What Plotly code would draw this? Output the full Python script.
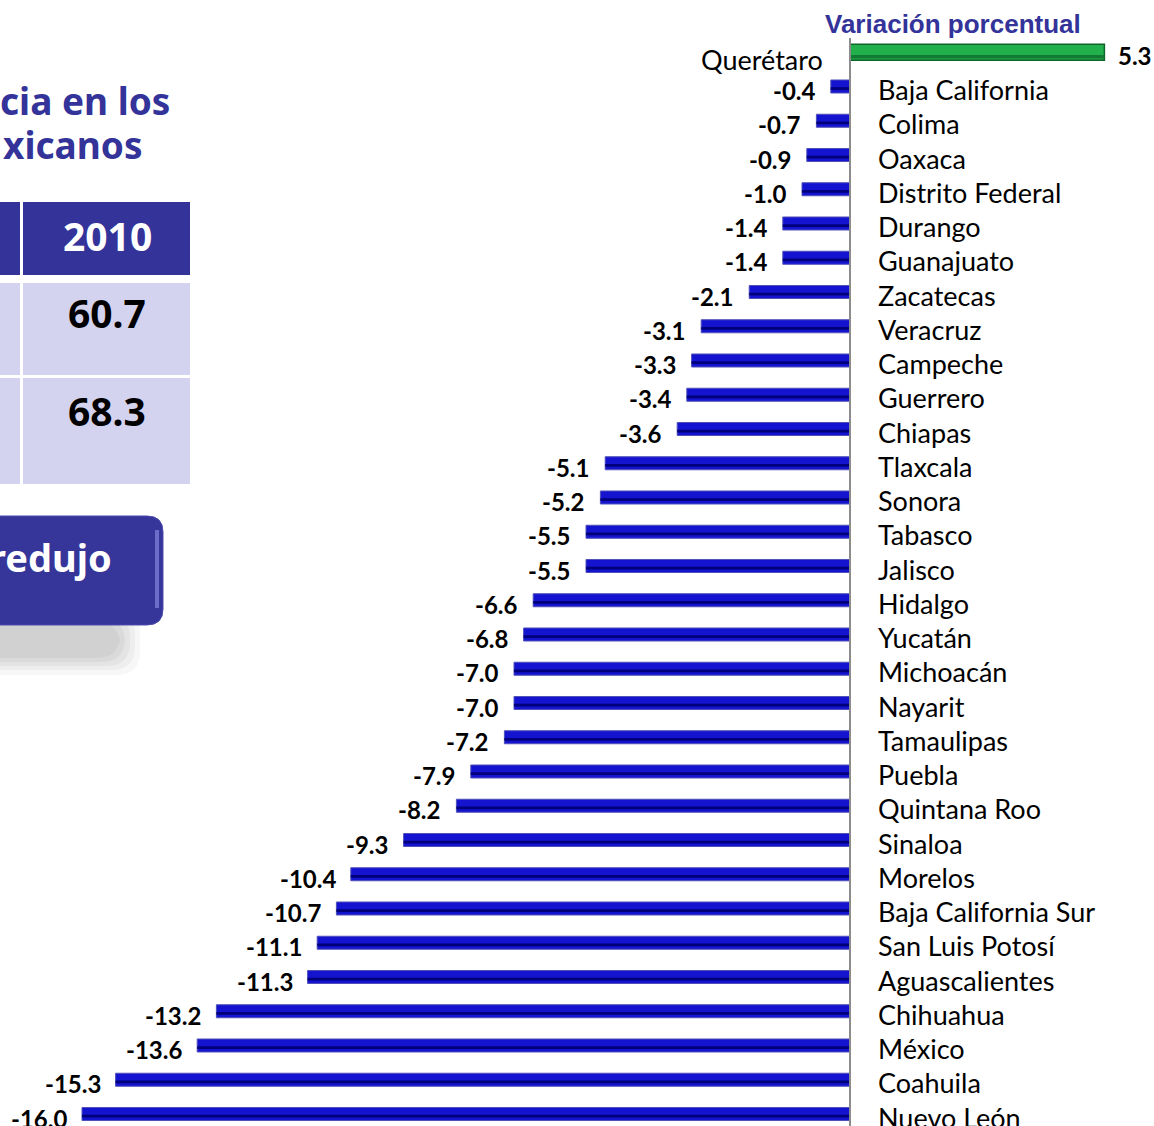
import plotly.graph_objects as go

W, H = 1154, 1126
OFF = 0
FW, FH = W - OFF, H - OFF

states = ["Querétaro", "Baja California", "Colima", "Oaxaca", "Distrito Federal",
          "Durango", "Guanajuato", "Zacatecas", "Veracruz", "Campeche", "Guerrero",
          "Chiapas", "Tlaxcala", "Sonora", "Tabasco", "Jalisco", "Hidalgo", "Yucatán",
          "Michoacán", "Nayarit", "Tamaulipas", "Puebla", "Quintana Roo", "Sinaloa",
          "Morelos", "Baja California Sur", "San Luis Potosí", "Aguascalientes",
          "Chihuahua", "México", "Coahuila", "Nuevo León"]
variation = [5.3, -0.4, -0.7, -0.9, -1.0, -1.4, -1.4, -2.1, -3.1, -3.3, -3.4, -3.6,
             -5.1, -5.2, -5.5, -5.5, -6.6, -6.8, -7.0, -7.0, -7.2, -7.9, -8.2, -9.3,
             -10.4, -10.7, -11.1, -11.3, -13.2, -13.6, -15.3, -16.0]

chart_title = "Variación porcentual"
side_title = ["cia en los", "xicanos"]
table_header = "2010"
table_values = ["60.7", "68.3"]
button_text = "redujo"

NAVY = "#333399"
LAV = "#d3d3f0"


def xp(px):
    return (px - OFF) / FW


def yp(py):
    return 1 - (py - OFF) / FH


def rrect(x0, y0, x1, y1, r):
    pts = [
        ("M", (x0 + r, y0)), ("L", (x1 - r, y0)), ("Q", (x1, y0), (x1, y0 + r)),
        ("L", (x1, y1 - r)), ("Q", (x1, y1), (x1 - r, y1)), ("L", (x0 + r, y1)),
        ("Q", (x0, y1), (x0, y1 - r)), ("L", (x0, y0 + r)), ("Q", (x0, y0), (x0 + r, y0)),
    ]
    s = ""
    for p in pts:
        s += p[0] + " " + " ".join(f"{xp(a):.5f},{yp(b):.5f}" for a, b in p[1:]) + " "
    return s + "Z"


pos_x = [v if v > 0 else None for v in variation]
neg_x = [v if v < 0 else None for v in variation]

fig = go.Figure()
fig.add_trace(go.Bar(x=neg_x, y=states, orientation="h", width=0.38,
                     marker=dict(color="#1414d0", line=dict(color="#5050b8", width=1)),
                     hoverinfo="skip"))
fig.add_trace(go.Bar(x=neg_x, y=states, orientation="h", width=0.08, offset=0.02,
                     marker=dict(color="#00007a", line=dict(width=0)), hoverinfo="skip"))
fig.add_trace(go.Bar(x=pos_x, y=states, orientation="h", width=0.47,
                     marker=dict(color="#22b04c", line=dict(color="#0e6428", width=1.5)),
                     hoverinfo="skip"))
fig.add_trace(go.Bar(x=pos_x, y=states, orientation="h", width=0.1, offset=0.08,
                     marker=dict(color="#137a34", line=dict(width=0)), hoverinfo="skip"))

annotations = []
for s, v in zip(states, variation):
    if v < 0:
        annotations.append(dict(x=0, y=s, xref="x", yref="y", text=s, showarrow=False,
                                xanchor="left", xshift=26, yshift=-3,
                                font=dict(family="Lato", size=27, color="#000000")))
        annotations.append(dict(x=v, y=s, xref="x", yref="y", text=f"<b>{v:.1f}</b>",
                                showarrow=False, xanchor="right", xshift=-13, yshift=-4,
                                font=dict(family="Lato", size=24, color="#000000")))
    else:
        annotations.append(dict(x=0, y=s, xref="x", yref="y", text=s, showarrow=False,
                                xanchor="right", xshift=-25, yshift=-7,
                                font=dict(family="Lato", size=27, color="#000000")))
        annotations.append(dict(x=v, y=s, xref="x", yref="y", text=f"<b>{v:.1f}</b>",
                                showarrow=False, xanchor="left", xshift=12, yshift=-3,
                                font=dict(family="Lato", size=24, color="#000000")))

annotations.append(dict(x=xp(953), y=yp(24), xref="paper", yref="paper",
                        text=f"<b>{chart_title}</b>", showarrow=False,
                        xanchor="center", yanchor="middle",
                        font=dict(family="Liberation Sans", size=26, color=NAVY)))

# left side title (cropped)
for txt, cy, rx in zip(side_title, [100, 145], [172, 144]):
    annotations.append(dict(x=xp(rx), y=yp(cy), xref="paper", yref="paper",
                            text=f"<b>{txt}</b>", showarrow=False, xanchor="right", yanchor="middle",
                            font=dict(family="Noto Sans", size=37, color=NAVY)))

shapes = []
# table
shapes.append(dict(type="rect", xref="paper", yref="paper", x0=xp(-5), x1=xp(20), y0=yp(275), y1=yp(202),
                   fillcolor=NAVY, line=dict(width=0)))
shapes.append(dict(type="rect", xref="paper", yref="paper", x0=xp(23), x1=xp(190), y0=yp(275), y1=yp(202),
                   fillcolor=NAVY, line=dict(width=0)))
for (t, b) in [(283, 375), (378, 484)]:
    shapes.append(dict(type="rect", xref="paper", yref="paper", x0=xp(-5), x1=xp(20), y0=yp(b), y1=yp(t),
                       fillcolor=LAV, line=dict(width=0)))
    shapes.append(dict(type="rect", xref="paper", yref="paper", x0=xp(23), x1=xp(190), y0=yp(b), y1=yp(t),
                       fillcolor=LAV, line=dict(width=0)))

annotations.append(dict(x=xp(107), y=yp(235), xref="paper", yref="paper", text=f"<b>{table_header}</b>",
                        showarrow=False, xanchor="center", yanchor="middle",
                        font=dict(family="Noto Sans", size=39, color="#ffffff")))
for txt, cy in zip(table_values, [312, 410]):
    annotations.append(dict(x=xp(107), y=yp(cy), xref="paper", yref="paper", text=f"<b>{txt}</b>",
                            showarrow=False, xanchor="center", yanchor="middle",
                            font=dict(family="Noto Sans", size=39, color="#000000")))

# button shadow (soft)
for dx, dy, op in [(0, 0, 0.07), (5, 5, 0.08), (10, 9, 0.09), (15, 13, 0.10), (20, 17, 0.11)]:
    shapes.append(dict(type="path", xref="paper", yref="paper",
                       path=rrect(-30, 605 + dy, 140 - dx, 675 - dy, 24),
                       fillcolor="#8a8a8a", opacity=op, line=dict(width=0)))
# button
shapes.append(dict(type="path", xref="paper", yref="paper", path=rrect(-30, 516, 163, 625, 16),
                   fillcolor="#35359a", line=dict(color="#4a4ab0", width=1)))
shapes.append(dict(type="rect", xref="paper", yref="paper", x0=xp(155), x1=xp(159), y0=yp(608), y1=yp(530),
                   fillcolor="#7a7ad6", opacity=0.8, line=dict(width=0)))
annotations.append(dict(x=xp(114), y=yp(557), xref="paper", yref="paper", text=f"<b>{button_text}</b>",
                        showarrow=False, xanchor="right", yanchor="middle",
                        font=dict(family="Noto Sans", size=38, color="#ffffff")))

# zero axis line
shapes.append(dict(type="line", xref="x", yref="paper", x0=0, x1=0, y0=0, y1=yp(38),
                   line=dict(color="#8c8c8c", width=2)))

zero_px = 850 - OFF
scale = 48.0
row0 = 52.25 - OFF
step = 34.25
fig.update_layout(
    width=FW, height=FH, autosize=False,
    margin=dict(l=0, r=0, t=0, b=0),
    paper_bgcolor="#ffffff", plot_bgcolor="#ffffff",
    barmode="overlay", showlegend=False, hovermode=False,
    xaxis=dict(range=[-zero_px / scale, (FW - zero_px) / scale], visible=False, domain=[0, 1]),
    yaxis=dict(type="category", categoryorder="array", categoryarray=states,
               range=[(FH - row0) / step, -row0 / step], visible=False, domain=[0, 1]),
    annotations=annotations, shapes=shapes,
)

fig.write_html("out.html", config={"displayModeBar": False, "staticPlot": True},
               post_script="document.body.style.margin='0px';document.body.style.overflow='hidden';")
